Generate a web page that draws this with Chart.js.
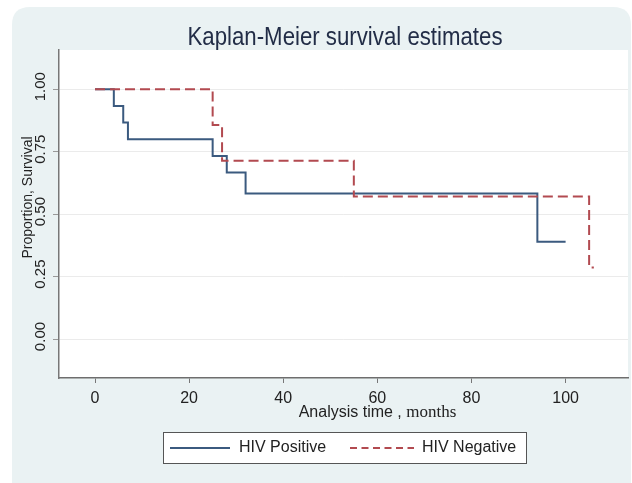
<!DOCTYPE html>
<html><head><meta charset="utf-8">
<script src="https://cdn.jsdelivr.net/npm/chart.js@4"></script>
<style>html,body{margin:0;padding:0;background:#fff}</style>
</head><body><canvas id="c" width="632" height="483"></canvas>
<script>
const titleText = 'Kaplan-Meier survival estimates';
const xTitleSans = 'Analysis time , ';
const xTitleSerif = 'months';
const yTitle = 'Proportion, Survival';
const seriesNames = ['HIV Positive', 'HIV Negative'];
const posTime = [0, 4, 6, 7, 25, 28, 32, 94, 100];
const posSurv = [1, 0.933, 0.867, 0.8, 0.733, 0.667, 0.583, 0.389, 0.389];
const negTime = [0, 25, 27, 55, 105, 106];
const negSurv = [1, 0.857, 0.714, 0.571, 0.286, 0.286];
const xTicks = [0, 20, 40, 60, 80, 100];
const yTicks = [0, 0.25, 0.5, 0.75, 1];
const yTickLabels = ['0.00', '0.25', '0.50', '0.75', '1.00'];

const BLUE = '#3b5a7f';
const RED = '#b24a50';
const SANS = '"Liberation Sans", Arial, sans-serif';

const decor = {
  id: 'decor',
  beforeDraw(chart) {
    const ctx = chart.ctx, a = chart.chartArea;
    ctx.save();
    ctx.fillStyle = '#ffffff';
    ctx.fillRect(0, 0, chart.width, chart.height);
    ctx.fillStyle = '#eaf2f3';
    ctx.beginPath();
    const x0 = 12, y0 = 7, x1 = 631, y1 = 483, r = 18;
    ctx.moveTo(x0, y1);
    ctx.lineTo(x0, y0 + r);
    ctx.quadraticCurveTo(x0, y0, x0 + r, y0);
    ctx.lineTo(x1 - r, y0);
    ctx.quadraticCurveTo(x1, y0, x1, y0 + r);
    ctx.lineTo(x1, y1);
    ctx.closePath();
    ctx.fill();
    ctx.fillStyle = '#ffffff';
    ctx.fillRect(a.left, a.top, a.right - a.left, a.bottom - a.top);
    ctx.restore();
  },
  afterDraw(chart) {
    const ctx = chart.ctx, ys = chart.scales.y;
    ctx.save();
    // title
    ctx.fillStyle = '#222d47';
    ctx.font = '25px ' + SANS;
    ctx.textAlign = 'center';
    ctx.textBaseline = 'alphabetic';
    ctx.fillText(titleText, 345, 44.5, 315);
    // y tick labels (rotated)
    ctx.fillStyle = '#222';
    ctx.font = '15px ' + SANS;
    yTicks.forEach((v, i) => {
      const py = ys.getPixelForValue(v);
      ctx.save();
      ctx.translate(45, py - 2.5);
      ctx.rotate(-Math.PI / 2);
      ctx.textAlign = 'center';
      ctx.textBaseline = 'alphabetic';
      ctx.fillText(yTickLabels[i], 0, 0);
      ctx.restore();
    });
    // y title
    ctx.save();
    ctx.font = '14px ' + SANS;
    ctx.translate(32, 197.5);
    ctx.rotate(-Math.PI / 2);
    ctx.textAlign = 'center';
    ctx.textBaseline = 'alphabetic';
    ctx.fillText(yTitle, 0, 0);
    ctx.restore();
    // x title (mixed fonts)
    ctx.textAlign = 'left';
    ctx.textBaseline = 'alphabetic';
    ctx.font = '16px ' + SANS;
    const w1 = ctx.measureText(xTitleSans).width;
    ctx.font = '17px "Liberation Serif", "Times New Roman", serif';
    const w2 = ctx.measureText(xTitleSerif).width;
    const sx = 377.5 - (w1 + w2) / 2;
    ctx.font = '16px ' + SANS;
    ctx.fillText(xTitleSans, sx, 417);
    ctx.font = '17px "Liberation Serif", "Times New Roman", serif';
    ctx.fillText(xTitleSerif, sx + w1, 417);
    // legend
    ctx.fillStyle = '#ffffff';
    ctx.fillRect(163, 432.5, 364, 31);
    ctx.strokeStyle = '#555';
    ctx.lineWidth = 1;
    ctx.strokeRect(163.5, 432.5, 363, 31);
    const ly = 448;
    ctx.lineWidth = 2;
    ctx.strokeStyle = BLUE;
    ctx.beginPath(); ctx.moveTo(170, ly); ctx.lineTo(230, ly); ctx.stroke();
    ctx.strokeStyle = RED;
    ctx.setLineDash([7, 4.5]);
    ctx.beginPath(); ctx.moveTo(350, ly); ctx.lineTo(414, ly); ctx.stroke();
    ctx.setLineDash([]);
    ctx.fillStyle = '#222';
    ctx.font = '16px ' + SANS;
    ctx.textBaseline = 'middle';
    ctx.fillText(seriesNames[0], 239, ly);
    ctx.fillText(seriesNames[1], 422, ly);
    ctx.restore();
  }
};

new Chart(document.getElementById('c'), {
  type: 'line',
  data: {
    datasets: [
      {
        label: seriesNames[0],
        data: posTime.map((t, i) => ({ x: t, y: posSurv[i] })),
        stepped: true, borderColor: BLUE, borderWidth: 2,
        pointRadius: 0, fill: false, order: 1
      },
      {
        label: seriesNames[1],
        data: negTime.map((t, i) => ({ x: t, y: negSurv[i] })),
        stepped: true, borderColor: RED, borderWidth: 2, borderDash: [10, 5],
        pointRadius: 0, fill: false, order: 0
      }
    ]
  },
  options: {
    responsive: false,
    animation: false,
    devicePixelRatio: 1,
    layout: { padding: { top: 50, right: 4, left: 0, bottom: 0 } },
    plugins: { legend: { display: false }, title: { display: false }, tooltip: { enabled: false } },
    scales: {
      x: {
        type: 'linear', min: -7.65, max: 113.26,
        afterBuildTicks: s => { s.ticks = xTicks.map(v => ({ value: v })); },
        afterFit: s => { s.height = 105; },
        ticks: { font: { family: SANS, size: 16 }, color: '#222', padding: 6, maxRotation: 0, minRotation: 0, autoSkip: false, callback: v => String(v) },
        grid: { drawOnChartArea: false, drawTicks: true, tickLength: 5, tickColor: '#777', lineWidth: 1 },
        border: { color: '#6e6e6e', width: 1.5 }
      },
      y: {
        type: 'linear', min: -0.156, max: 1.157,
        afterBuildTicks: s => { s.ticks = yTicks.map(v => ({ value: v })); },
        afterFit: s => { s.width = 59; },
        ticks: { display: false },
        grid: { color: '#ebebeb', tickColor: '#999', tickLength: 6, drawTicks: true, lineWidth: 1 },
        border: { color: '#777', width: 1.5 }
      }
    }
  },
  plugins: [decor]
});
</script>
</body></html>
